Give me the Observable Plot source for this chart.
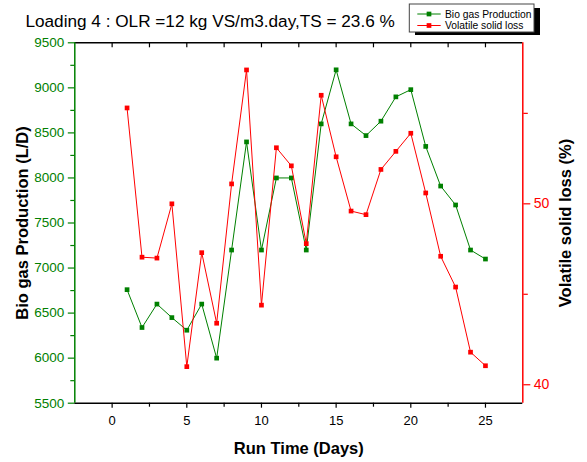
<!DOCTYPE html>
<html><head><meta charset="utf-8">
<script src="https://cdn.jsdelivr.net/npm/d3@7"></script>
<script src="https://cdn.jsdelivr.net/npm/@observablehq/plot@0.6"></script>
<style>
body{margin:0;background:#fff;}
#chart{width:587px;height:462px;}
</style></head><body>
<div id="chart"></div>
<script>
// ---- data ----
const days = [1,2,3,4,5,6,7,8,9,10,11,12,13,14,15,16,17,18,19,20,21,22,23,24,25];
const biogas = [6760,6340,6600,6450,6310,6600,6000,7200,8400,7200,8000,8000,7200,8600,9200,8600,8470,8630,8900,8980,8350,7910,7700,7200,7100];
const vsLoss = [55.3,47.05,47.0,50.0,41.0,47.3,43.4,51.1,57.4,44.4,53.1,52.1,47.8,56.0,52.6,49.6,49.4,51.9,52.9,53.9,50.6,47.1,45.4,41.8,41.05];
const xMajor = [0,5,10,15,20,25];
const xMinor = [2.5,7.5,12.5,17.5,22.5];
const leftMajor = [5500,6000,6500,7000,7500,8000,8500,9000,9500];
const leftMinor = [5750,6250,6750,7250,7750,8250,8750,9250];
const rightMajor = [40,50];
const rightMinor = [45,55];
const xDomain = [-2.5,27.5];
const leftDomain = [5500,9500];
const rightDomain = [38.98,58.9];
const titleText = "Loading 4 : OLR =12 kg VS/m3.day,TS = 23.6 %";
const seriesNames = ["Bio gas Production","Volatile solid loss"];

const GREEN = "#008000", RED = "#ff0000";
const FONT = '"Liberation Sans", Arial, sans-serif';
const W = 587, H = 462, mL = 74.3, mR = 64.7, mT = 42.3, mB = 59.3;
const innerH = H - mT - mB;

const toLeft = d3.scaleLinear().domain(rightDomain).range(leftDomain);
const rows = days.map((d,i)=>({day:d, biogas:biogas[i], vs:vsLoss[i]}));

const chart = Plot.plot({
  width: W, height: H,
  marginLeft: mL, marginRight: mR, marginTop: mT, marginBottom: mB,
  style: {fontFamily: FONT, fontSize: "13px", background: "white", color: "black", overflow: "visible"},
  x: {domain: xDomain, axis: null},
  y: {domain: leftDomain, axis: null},
  marks: [
    // bottom axis
    Plot.axisX(xMajor, {anchor: "bottom", tickSize: 5, tickPadding: 8, fontSize: 13, tickFormat: d => String(d), label: null, strokeWidth: 1.2}),
    Plot.axisX(xMinor, {anchor: "bottom", tickSize: 4, tickFormat: () => "", label: null, strokeWidth: 1.2}),
    // top ticks (inward)
    Plot.tickX(xMajor.concat(xMinor), {x: d => d, insetBottom: innerH - 5, stroke: "black", strokeWidth: 1.2}),
    // left axis
    Plot.axisY(leftMajor, {anchor: "left", tickSize: 6.5, tickPadding: 4, fontSize: 13.5, color: GREEN, tickFormat: d => String(d), label: null, strokeWidth: 1.2}),
    Plot.axisY(leftMinor, {anchor: "left", tickSize: 4, color: GREEN, tickFormat: () => "", label: null, strokeWidth: 1.2}),
    // right axis
    Plot.axisY(rightMajor.map(toLeft), {anchor: "right", tickSize: 7, tickPadding: 4, fontSize: 14, color: RED, tickFormat: v => String(Math.round(toLeft.invert(v))), label: null, strokeWidth: 1.2}),
    Plot.axisY(rightMinor.map(toLeft), {anchor: "right", tickSize: 4.5, color: RED, tickFormat: () => "", label: null, strokeWidth: 1.2}),
    // frame
    Plot.ruleY([leftDomain[0], leftDomain[1]], {stroke: "black", strokeWidth: 1.5}),
    Plot.ruleX([xDomain[0]], {stroke: GREEN, strokeWidth: 1.5}),
    Plot.ruleX([xDomain[1]], {stroke: RED, strokeWidth: 1.5}),
    // series
    Plot.line(rows, {x: "day", y: "biogas", stroke: GREEN, strokeWidth: 1}),
    Plot.dot(rows, {x: "day", y: "biogas", symbol: "square", r: 2.65, fill: GREEN, stroke: "none"}),
    Plot.line(rows, {x: "day", y: d => toLeft(d.vs), stroke: RED, strokeWidth: 1}),
    Plot.dot(rows, {x: "day", y: d => toLeft(d.vs), symbol: "square", r: 2.65, fill: RED, stroke: "none"}),
    // axis titles
    Plot.text(["Bio gas Production (L/D)"], {frameAnchor: "left", dx: -52.3, rotate: -90, text: d => d, fontSize: 16.5, fontWeight: "bold", fill: "black", textAnchor: "middle", lineAnchor: "middle"}),
    Plot.text(["Volatile solid loss (%)"], {frameAnchor: "right", dx: 43.2, rotate: -90, text: d => d, fontSize: 16.5, fontWeight: "bold", fill: "black", textAnchor: "middle", lineAnchor: "middle"}),
    Plot.text(["Run Time (Days)"], {frameAnchor: "bottom", dy: 45.5, text: d => d, fontSize: 16.5, fontWeight: "bold", fill: "black", textAnchor: "middle", lineAnchor: "middle"})
  ]
});
document.getElementById("chart").appendChild(chart);

// title and legend added to the same svg
const svg = d3.select(chart);
svg.append("text").attr("x", 25.4).attr("y", 27).attr("text-anchor", "start").attr("font-family", FONT).attr("font-size", 17.2).attr("fill", "black").text(titleText);

const lg = svg.append("g").attr("text-anchor", "start");
lg.append("rect").attr("x", 415).attr("y", 8).attr("width", 125).attr("height", 27).attr("fill", "black");
lg.append("rect").attr("x", 409.3).attr("y", 4).attr("width", 124.7).attr("height", 28).attr("fill", "white").attr("stroke", "#444").attr("stroke-width", 1);
const colors = [GREEN, RED];
const rowY = [14, 25.5];
seriesNames.forEach((name, i) => {
  lg.append("line").attr("x1", 417.3).attr("x2", 440.7).attr("y1", rowY[i]).attr("y2", rowY[i]).attr("stroke", colors[i]).attr("stroke-width", 1);
  lg.append("rect").attr("x", 429 - 2.35).attr("y", rowY[i] - 2.35).attr("width", 4.7).attr("height", 4.7).attr("fill", colors[i]);
  lg.append("text").attr("x", 445).attr("y", rowY[i]).attr("dy", "0.35em").attr("text-anchor", "start").attr("font-family", FONT).attr("font-size", 10.3).attr("fill", "black").text(name);
});
</script>
</body></html>
